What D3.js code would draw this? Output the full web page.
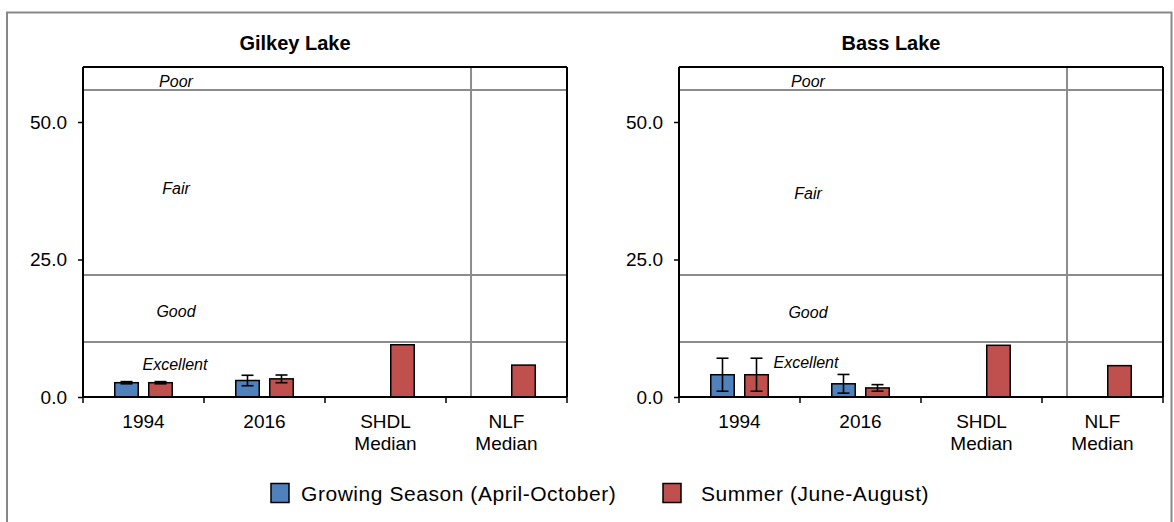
<!DOCTYPE html>
<html>
<head>
<meta charset="utf-8">
<script src="https://cdn.jsdelivr.net/npm/d3@7"></script>
<style>
  html, body { margin: 0; padding: 0; background: #fff; }
  svg { display: block; font-family: "Liberation Sans", Arial, sans-serif; }
</style>
</head>
<body>
<svg id="chart" width="1174" height="522"></svg>
<script>
// ---------- data ----------
const categoryLabels = [["1994"], ["2016"], ["SHDL", "Median"], ["NLF", "Median"]];
const lakeNames = ["Gilkey Lake", "Bass Lake"];
const seriesNames = ["Growing Season (April-October)", "Summer (June-August)"];
const seriesColors = ["#4F81BD", "#C0504D"];

const gilkeyGrowing    = [2.6, 3.0, null, null];
const gilkeyGrowingErr = [0.2, 0.95, null, null];
const gilkeySummer     = [2.6, 3.3, 9.5, 5.8];
const gilkeySummerErr  = [0.2, 0.7, null, null];

const bassGrowing      = [4.05, 2.4, null, null];
const bassGrowingErr   = [3.0, 1.7, null, null];
const bassSummer       = [4.05, 1.65, 9.4, 5.7];
const bassSummerErr    = [3.0, 0.6, null, null];

const yTicks = [0, 25, 50];
const yMax = 60;
const bandThresholds = [10, 22.2, 55.8];
const bandLabels = ["Excellent", "Good", "Fair", "Poor"];

// ---------- layout ----------
const svg = d3.select("#chart");
const plotW = 484, plotTop = 67, plotBottom = 397;
const panels = [
  { left: 83, title: lakeNames[0], growing: gilkeyGrowing, growingErr: gilkeyGrowingErr,
    summer: gilkeySummer, summerErr: gilkeySummerErr,
    labelPos: { Poor: [93, 81], Fair: [93, 188], Good: [93, 311], Excellent: [92, 364] } },
  { left: 679, title: lakeNames[1], growing: bassGrowing, growingErr: bassGrowingErr,
    summer: bassSummer, summerErr: bassSummerErr,
    labelPos: { Poor: [129, 81], Fair: [129, 193], Good: [129, 312], Excellent: [127, 362] } }
];
const dividerFrac = 0.8017;

// outer frame
svg.append("rect").attr("x", 7).attr("y", 12.5).attr("width", 1164.5).attr("height", 540)
  .attr("fill", "none").attr("stroke", "#888").attr("stroke-width", 2);

const y = d3.scaleLinear().domain([0, yMax]).range([plotBottom, plotTop]);

panels.forEach(p => {
  const g = svg.append("g").attr("transform", `translate(${p.left},0)`);
  const x = d3.scaleBand().domain(d3.range(categoryLabels.length)).range([0, plotW]).padding(0);
  const xs = d3.scaleBand().domain([0, 1]).range([0, x.bandwidth()])
    .paddingInner(0.309).paddingOuter(0.934);

  // title
  svg.append("text").attr("x", p.left + 212).attr("y", 50).attr("text-anchor", "middle")
    .attr("font-size", 20).attr("font-weight", "bold").attr("fill", "#000").text(p.title);

  // band lines
  bandThresholds.forEach(t => {
    g.append("line").attr("x1", 0).attr("x2", plotW).attr("y1", y(t)).attr("y2", y(t))
      .attr("stroke", "#8c8c8c").attr("stroke-width", 2);
  });
  // divider
  g.append("line").attr("x1", plotW * dividerFrac).attr("x2", plotW * dividerFrac)
    .attr("y1", plotTop).attr("y2", plotBottom).attr("stroke", "#8c8c8c").attr("stroke-width", 2);

  // band labels
  bandLabels.forEach(lbl => {
    const pos = p.labelPos[lbl];
    g.append("text").attr("x", pos[0]).attr("y", pos[1] + 5.5).attr("text-anchor", "middle")
      .attr("font-size", 16).attr("font-style", "italic").attr("fill", "#000").text(lbl);
  });

  // bars
  const series = [
    { vals: p.growing, errs: p.growingErr, idx: 0 },
    { vals: p.summer, errs: p.summerErr, idx: 1 }
  ];
  series.forEach(s => {
    s.vals.forEach((v, i) => {
      if (v == null) return;
      const bx = x(i) + xs(s.idx);
      g.append("rect").attr("x", bx).attr("y", y(v)).attr("width", xs.bandwidth())
        .attr("height", y(0) - y(v)).attr("fill", seriesColors[s.idx])
        .attr("stroke", "#000").attr("stroke-width", 1.5);
      const e = s.errs[i];
      if (e != null) {
        const cx = bx + xs.bandwidth() / 2;
        const cap = 6;
        const eg = g.append("g").attr("stroke", "#000").attr("stroke-width", 1.6);
        eg.append("line").attr("x1", cx).attr("x2", cx).attr("y1", y(v + e)).attr("y2", y(Math.max(0, v - e)));
        eg.append("line").attr("x1", cx - cap).attr("x2", cx + cap).attr("y1", y(v + e)).attr("y2", y(v + e));
        eg.append("line").attr("x1", cx - cap).attr("x2", cx + cap).attr("y1", y(Math.max(0, v - e))).attr("y2", y(Math.max(0, v - e)));
      }
    });
  });

  // frame top & right
  g.append("line").attr("x1", 0).attr("x2", plotW).attr("y1", plotTop).attr("y2", plotTop)
    .attr("stroke", "#000").attr("stroke-width", 2);
  g.append("line").attr("x1", plotW).attr("x2", plotW).attr("y1", plotTop).attr("y2", plotBottom)
    .attr("stroke", "#000").attr("stroke-width", 2);

  // y axis
  const yAxis = d3.axisLeft(y).tickValues(yTicks).tickFormat(d3.format(".1f")).tickSize(5).tickPadding(11);
  const ya = g.append("g").call(yAxis);
  ya.select(".domain").attr("stroke", "#000").attr("stroke-width", 2)
    .attr("d", `M0,${plotTop}V${plotBottom}`);
  ya.selectAll(".tick line").attr("stroke", "#000").attr("stroke-width", 1.5);
  ya.selectAll(".tick text").attr("font-size", 19).attr("fill", "#000")
    .attr("font-family", "Liberation Sans, Arial, sans-serif");

  // x axis
  const xa = g.append("g").attr("transform", `translate(0,${plotBottom})`);
  xa.append("line").attr("x1", 0).attr("x2", plotW).attr("stroke", "#000").attr("stroke-width", 2);
  d3.range(categoryLabels.length + 1).forEach(i => {
    const tx = i * x.step();
    xa.append("line").attr("x1", tx).attr("x2", tx).attr("y1", 0).attr("y2", 6)
      .attr("stroke", "#000").attr("stroke-width", 1.5);
  });
  categoryLabels.forEach((lines, i) => {
    const t = xa.append("text").attr("text-anchor", "middle").attr("font-size", 19).attr("fill", "#000");
    lines.forEach((ln, k) => {
      t.append("tspan").attr("x", x(i) + x.bandwidth() / 2).attr("y", 31 + k * 22).text(ln);
    });
  });
});

// legend
const legendItems = [
  { sx: 271, tx: 301, name: seriesNames[0], color: seriesColors[0] },
  { sx: 663, tx: 701, name: seriesNames[1], color: seriesColors[1] }
];
legendItems.forEach(it => {
  svg.append("rect").attr("x", it.sx).attr("y", 483.5).attr("width", 18).attr("height", 19)
    .attr("fill", it.color).attr("stroke", "#000").attr("stroke-width", 1.5);
  svg.append("text").attr("x", it.tx).attr("y", 500.5).attr("font-size", 21)
    .attr("letter-spacing", "0.55px").attr("fill", "#000").text(it.name);
});
</script>
</body>
</html>
